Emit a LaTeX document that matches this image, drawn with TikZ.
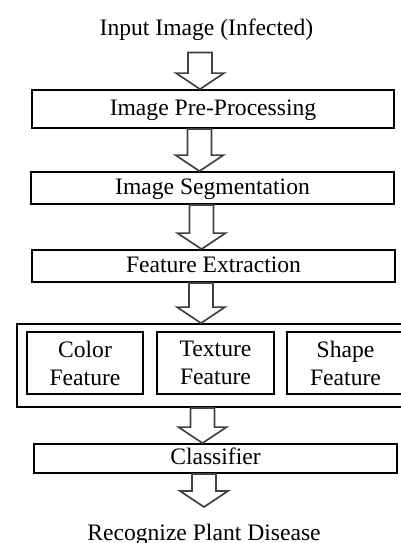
\documentclass[tikz,border=0pt]{standalone}
\usepackage{fontspec}
\setmainfont{Liberation Serif}
\usetikzlibrary{calc}
\newcommand\blockarrow[3]{%
  \draw[barrowst] let \p1=#1, \p2=#2 in
   ({(#3-12)*0.5pt},\y1) -- ({(#3-12)*0.5pt},{\y2+8pt}) -- ({(#3-24)*0.5pt},{\y2+8pt})
   -- ({#3*0.5pt},\y2) -- ({(#3+24)*0.5pt},{\y2+8pt}) -- ({(#3+12)*0.5pt},{\y2+8pt})
   -- ({(#3+12)*0.5pt},\y1) -- cycle;}
\begin{document}
\begin{tikzpicture}[x=0.5pt,y=-0.5pt,
  font=\fontsize{11.8}{14}\selectfont,
  stagebox/.style={draw=black, line width=0.9pt, inner sep=0pt, text height=0.7em, text depth=0.1em},
  featbox/.style={draw=black, line width=0.9pt, inner sep=0pt, align=center},
  plaintext/.style={inner sep=0pt, anchor=base},
  barrowst/.style={draw=black!75, line width=0.85pt, fill=white, line join=miter}]
\useasboundingbox (0,0) rectangle (401,543);
\node[plaintext] (title) at (206.5,35) {Input Image (Infected)};
\node[stagebox, minimum width=181pt, minimum height=19pt] (pre) at (213,109) {Image Pre-Processing};
\node[stagebox, minimum width=181.5pt, minimum height=16pt] (seg) at (212.5,188) {Image Segmentation};
\node[stagebox, minimum width=181.5pt, minimum height=16pt] (fe) at (213.5,266) {Feature Extraction};
\node[draw=black, line width=0.9pt, minimum width=193.5pt, minimum height=41.5pt, inner sep=0pt] (outer) at (210.5,365.5) {};
\node[featbox, minimum width=58pt, minimum height=31pt] (color) at (85,363) {Color\\Feature};
\node[featbox, minimum width=58.5pt, minimum height=31pt] (texture) at (215.5,363) {Texture\\Feature};
\node[featbox, minimum width=58.5pt, minimum height=31pt] (shape) at (345.5,363) {Shape\\Feature};
\node[stagebox, minimum width=181.5pt, minimum height=14.5pt] (cls) at (215.5,458.5) {Classifier};
\node[plaintext] (recog) at (204,540) {Recognize Plant Disease};
\coordinate (rtip) at (204,507);
\blockarrow{($(title.south)+(0,12)$)}{(pre.north)}{200}
\blockarrow{(pre.south)}{(seg.north)}{199.5}
\blockarrow{(seg.south)}{(fe.north)}{201.5}
\blockarrow{(fe.south)}{(outer.north)}{201}
\blockarrow{(outer.south)}{(cls.north)}{202.5}
\blockarrow{(cls.south)}{(rtip)}{204}
\end{tikzpicture}
\end{document}
